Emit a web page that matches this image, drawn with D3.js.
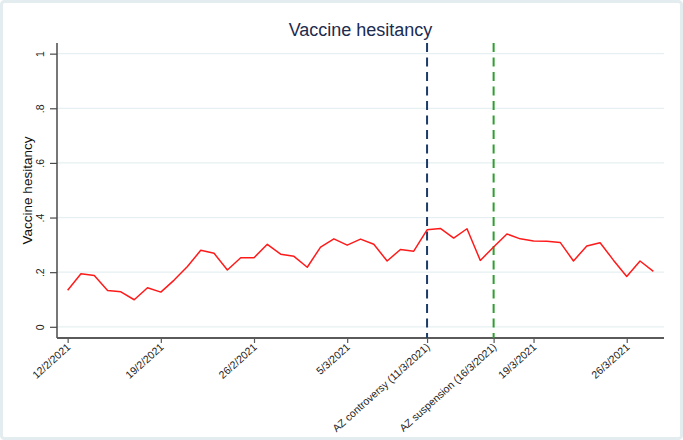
<!DOCTYPE html>
<html lang="en">
<head>
<meta charset="utf-8">
<title>Vaccine hesitancy</title>
<script src="https://d3js.org/d3.v7.min.js"></script>
<style>
  body { margin: 0; background: #fff; }
  svg { display: block; font-family: "Liberation Sans", Arial, sans-serif; }
</style>
</head>
<body>
<script>
// daily dates and values
var dates = ["2021-02-12","2021-02-13","2021-02-14","2021-02-15","2021-02-16","2021-02-17","2021-02-18",
             "2021-02-19","2021-02-20","2021-02-21","2021-02-22","2021-02-23","2021-02-24","2021-02-25",
             "2021-02-26","2021-02-27","2021-02-28","2021-03-01","2021-03-02","2021-03-03","2021-03-04",
             "2021-03-05","2021-03-06","2021-03-07","2021-03-08","2021-03-09","2021-03-10","2021-03-11",
             "2021-03-12","2021-03-13","2021-03-14","2021-03-15","2021-03-16","2021-03-17","2021-03-18",
             "2021-03-19","2021-03-20","2021-03-21","2021-03-22","2021-03-23","2021-03-24","2021-03-25",
             "2021-03-26","2021-03-27","2021-03-28"];
var hesitancy = [0.134,0.194,0.188,0.133,0.128,0.099,0.143,
                 0.127,0.171,0.221,0.280,0.269,0.208,0.253,
                 0.253,0.302,0.266,0.258,0.218,0.292,0.322,
                 0.299,0.321,0.302,0.241,0.283,0.277,0.355,
                 0.360,0.325,0.359,0.243,0.292,0.340,0.322,
                 0.314,0.313,0.309,0.241,0.296,0.308,0.244,
                 0.184,0.241,0.203];

var yTicks = [0, 0.2, 0.4, 0.6, 0.8, 1];
var yTickLabels = ["0", ".2", ".4", ".6", ".8", "1"];
var xTickDates = ["2021-02-12","2021-02-19","2021-02-26","2021-03-05","2021-03-11","2021-03-16","2021-03-19","2021-03-26"];
var xTickLabels = ["12/2/2021","19/2/2021","26/2/2021","5/3/2021","AZ controversy (11/3/2021)",
                   "AZ suspension (16/3/2021)","19/3/2021","26/3/2021"];
var events = [{date: "2021-03-11", color: "#1b3c68"}, {date: "2021-03-16", color: "#2f9e32"}];

var width = 683, height = 440;
// plot region edges (window.top is reserved, so prefixed names)
var plotL = 57, plotR = 664, plotT = 43, plotB = 338;

var parse = d3.utcParse("%Y-%m-%d");
var day = 864e5;
var data = dates.map(function(d, i) { return {date: parse(d), value: hesitancy[i]}; });

var svg = d3.select("body").append("svg")
    .attr("width", width)
    .attr("height", height);

// graph region frame
svg.append("rect")
    .attr("x", 1.5).attr("y", 1.5)
    .attr("width", width - 3).attr("height", height - 3)
    .attr("rx", 3)
    .attr("fill", "#fff")
    .attr("stroke", "#e3ecee")
    .attr("stroke-width", 3);

var x = d3.scaleUtc()
    .domain([new Date(parse(dates[0]).getTime() - 0.8 * day),
             new Date(parse(dates[dates.length - 1]).getTime() + 0.8 * day)])
    .range([plotL, plotR]);

var y = d3.scaleLinear()
    .domain([-0.041, 1.039])
    .range([plotB, plotT]);

// gridlines
svg.append("g")
    .selectAll("line")
    .data(yTicks)
    .enter().append("line")
    .attr("x1", plotL).attr("x2", plotR)
    .attr("y1", function(d) { return y(d); })
    .attr("y2", function(d) { return y(d); })
    .attr("stroke", "#e6eff1")
    .attr("stroke-width", 1.2);

// y axis
var yAxis = svg.append("g")
    .attr("transform", "translate(" + plotL + ",0)")
    .call(d3.axisLeft(y)
        .tickValues(yTicks)
        .tickSize(7)
        .tickFormat(function(d, i) { return yTickLabels[i]; }));
yAxis.select(".domain").remove();
yAxis.append("line")
    .attr("y1", plotT).attr("y2", plotB)
    .attr("stroke", "#4a4a4a").attr("stroke-width", 1.5);
yAxis.selectAll(".tick line").attr("stroke", "#4a4a4a").attr("stroke-width", 1.2);
yAxis.selectAll(".tick text")
    .attr("x", null).attr("dy", null)
    .attr("text-anchor", "middle")
    .attr("transform", "translate(-13,0) rotate(-90)")
    .attr("fill", "#222")
    .style("font-size", "10.5px");

// x axis
var xAxis = svg.append("g")
    .attr("transform", "translate(0," + plotB + ")")
    .call(d3.axisBottom(x)
        .tickValues(xTickDates.map(parse))
        .tickSize(5)
        .tickFormat(function(d, i) { return xTickLabels[i]; }));
xAxis.select(".domain").remove();
xAxis.append("line")
    .attr("x1", plotL).attr("x2", plotR)
    .attr("stroke", "#5a5a5a").attr("stroke-width", 2);
xAxis.selectAll(".tick line").attr("stroke", "#5a5a5a").attr("stroke-width", 1.2);
xAxis.selectAll(".tick text")
    .attr("y", null).attr("dy", null)
    .attr("text-anchor", "end")
    .attr("transform", "translate(3,10) rotate(-42)")
    .attr("fill", "#222")
    .style("font-size", "10.5px");

// event lines
svg.append("g")
    .selectAll("line")
    .data(events)
    .enter().append("line")
    .attr("x1", function(d) { return x(parse(d.date)); })
    .attr("x2", function(d) { return x(parse(d.date)); })
    .attr("y1", plotT).attr("y2", plotB)
    .attr("stroke", function(d) { return d.color; })
    .attr("stroke-width", 2)
    .attr("stroke-dasharray", "9,5.5");

// series
var line = d3.line()
    .x(function(d) { return x(d.date); })
    .y(function(d) { return y(d.value); });

svg.append("path")
    .datum(data)
    .attr("d", line)
    .attr("fill", "none")
    .attr("stroke", "#ff1a1a")
    .attr("stroke-width", 1.5)
    .attr("stroke-linejoin", "round");

// titles
svg.append("text")
    .attr("x", (plotL + plotR) / 2)
    .attr("y", 36)
    .attr("text-anchor", "middle")
    .attr("fill", "#1d2b4f")
    .style("font-size", "18px")
    .text("Vaccine hesitancy");

svg.append("text")
    .attr("transform", "translate(32," + (plotT + plotB) / 2 + ") rotate(-90)")
    .attr("text-anchor", "middle")
    .attr("fill", "#111")
    .style("font-size", "13.5px")
    .text("Vaccine hesitancy");
</script>
</body>
</html>
